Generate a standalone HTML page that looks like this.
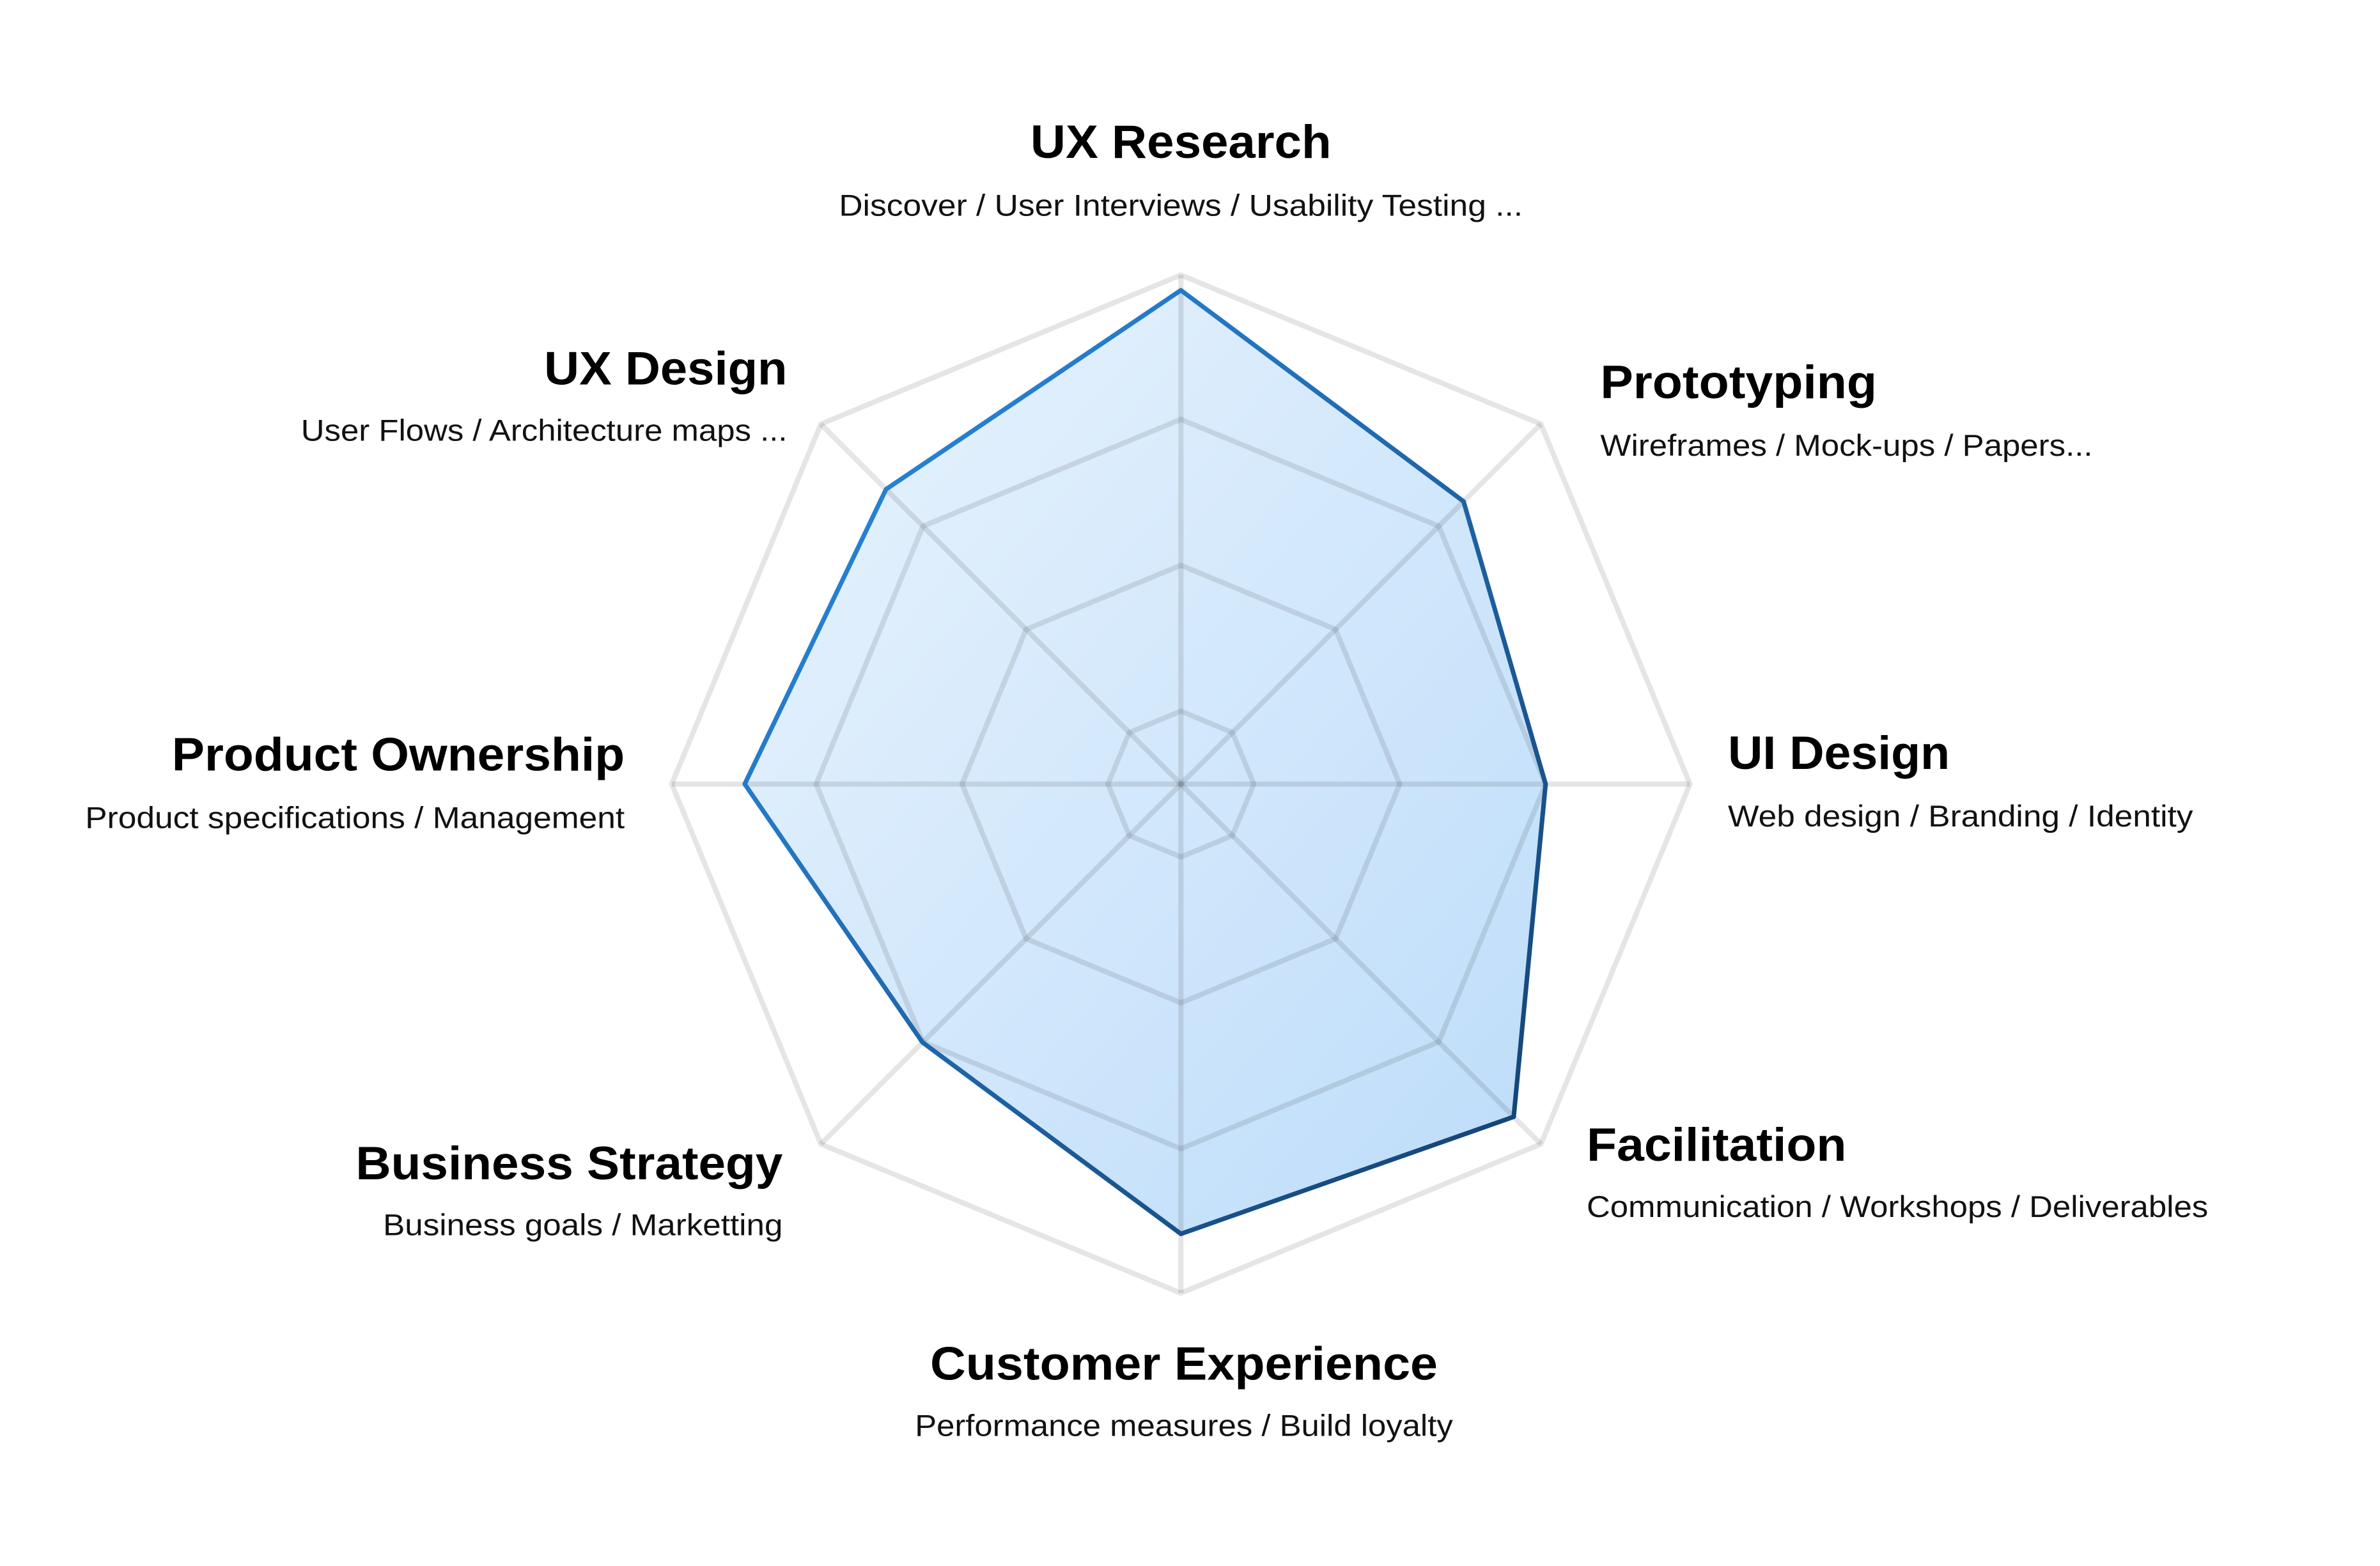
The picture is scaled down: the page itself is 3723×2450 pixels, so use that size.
<!DOCTYPE html>
<html><head><meta charset="utf-8"><style>
html,body{margin:0;padding:0;background:#fff;overflow:hidden;}
svg{display:block;}
.t{font-family:"Liberation Sans",sans-serif;font-weight:bold;font-size:31px;fill:#000;}
.s{font-family:"Liberation Sans",sans-serif;font-size:20px;fill:#111;}
</style></head><body>
<svg width="3723" height="2450" viewBox="0 0 1566 1030.6" xmlns="http://www.w3.org/2000/svg">
<defs>
<linearGradient id="fg" x1="0" y1="0" x2="1" y2="1">
<stop offset="0" stop-color="#eaf4fd"/><stop offset="1" stop-color="#bcdcfa"/>
</linearGradient>
<linearGradient id="sg" x1="0" y1="0" x2="1" y2="1">
<stop offset="0" stop-color="#2a90ea"/><stop offset="1" stop-color="#143f6e"/>
</linearGradient>
</defs>
<rect width="1566" height="1030.6" fill="#fff"/>
<g transform="translate(777,516)">
<polygon points="0,-325 186,-186 240,0 219,219 0,296 -170,170 -287,0 -194,-194" fill="url(#fg)"/>
<g fill="none" stroke="rgba(0,0,0,0.1)" stroke-width="3.4" stroke-linejoin="miter">
<polygon points="0,-335 236.9,-236.9 335,0 236.9,236.9 0,335 -236.9,236.9 -335,0 -236.9,-236.9"/>
<polygon points="0,-240 169.7,-169.7 240,0 169.7,169.7 0,240 -169.7,169.7 -240,0 -169.7,-169.7"/>
<polygon points="0,-144 101.8,-101.8 144,0 101.8,101.8 0,144 -101.8,101.8 -144,0 -101.8,-101.8"/>
<polygon points="0,-48 33.9,-33.9 48,0 33.9,33.9 0,48 -33.9,33.9 -48,0 -33.9,-33.9"/>
<line x1="0" y1="-335" x2="0" y2="335"/>
<line x1="-335" y1="0" x2="335" y2="0"/>
<line x1="-236.9" y1="-236.9" x2="236.9" y2="236.9"/>
<line x1="236.9" y1="-236.9" x2="-236.9" y2="236.9"/>
</g>
<polygon points="0,-325 186,-186 240,0 219,219 0,296 -170,170 -287,0 -194,-194" fill="none" stroke="url(#sg)" stroke-width="3" stroke-linejoin="round"/>
</g>
<text class="t" x="777" y="104" text-anchor="middle" textLength="198" lengthAdjust="spacingAndGlyphs">UX Research</text>
<text class="s" x="777" y="142" text-anchor="middle" textLength="450" lengthAdjust="spacingAndGlyphs">Discover / User Interviews / Usability Testing ...</text>
<text class="t" x="358" y="253" textLength="160" lengthAdjust="spacingAndGlyphs">UX Design</text>
<text class="s" x="198" y="290" textLength="320" lengthAdjust="spacingAndGlyphs">User Flows / Architecture maps ...</text>
<text class="t" x="1053" y="262" textLength="182" lengthAdjust="spacingAndGlyphs">Prototyping</text>
<text class="s" x="1053" y="300" textLength="324" lengthAdjust="spacingAndGlyphs">Wireframes / Mock-ups / Papers...</text>
<text class="t" x="113" y="507" textLength="298" lengthAdjust="spacingAndGlyphs">Product Ownership</text>
<text class="s" x="56" y="545" textLength="355" lengthAdjust="spacingAndGlyphs">Product specifications / Management</text>
<text class="t" x="1137" y="506" textLength="146" lengthAdjust="spacingAndGlyphs">UI Design</text>
<text class="s" x="1137" y="544" textLength="306" lengthAdjust="spacingAndGlyphs">Web design / Branding / Identity</text>
<text class="t" x="234" y="776" textLength="281" lengthAdjust="spacingAndGlyphs">Business Strategy</text>
<text class="s" x="252" y="813" textLength="263" lengthAdjust="spacingAndGlyphs">Business goals / Marketting</text>
<text class="t" x="1044" y="764" textLength="171" lengthAdjust="spacingAndGlyphs">Facilitation</text>
<text class="s" x="1044" y="801" textLength="409" lengthAdjust="spacingAndGlyphs">Communication / Workshops / Deliverables</text>
<text class="t" x="612" y="908" textLength="334" lengthAdjust="spacingAndGlyphs">Customer Experience</text>
<text class="s" x="602" y="945" textLength="354" lengthAdjust="spacingAndGlyphs">Performance measures / Build loyalty</text>
</svg>
</body></html>
